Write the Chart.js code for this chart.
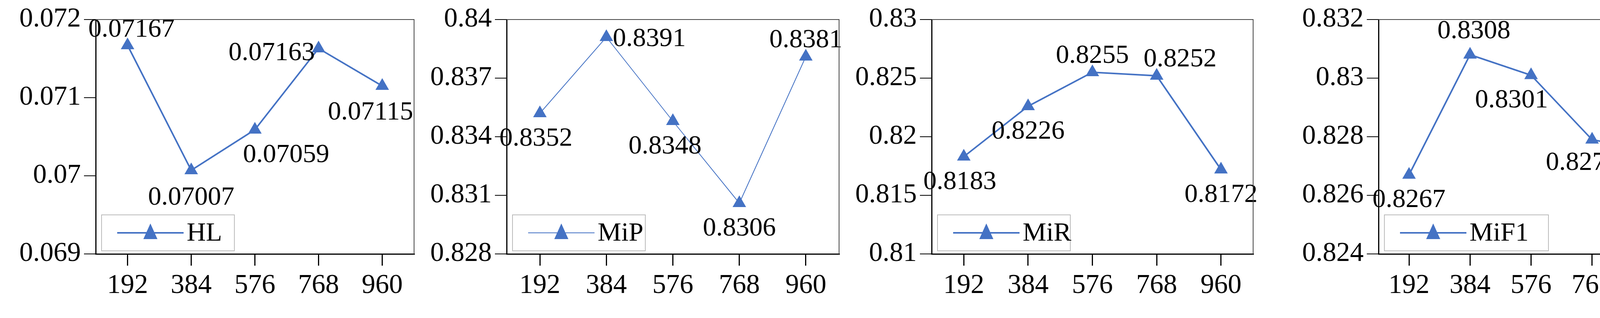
<!DOCTYPE html>
<html><head><meta charset="utf-8">
<script src="https://cdn.jsdelivr.net/npm/chart.js@4"></script>
<style>
html,body{margin:0;padding:0;background:#fff;width:4351px;height:814px;overflow:hidden}
canvas{position:absolute;top:0;display:block}
</style></head><body>
<canvas id="c0" width="1088" height="814" style="left:0;width:1088px;height:814px"></canvas>
<canvas id="c1" width="1088" height="814" style="left:1088px;width:1088px;height:814px"></canvas>
<canvas id="c2" width="1088" height="814" style="left:2176px;width:1088px;height:814px"></canvas>
<canvas id="c3" width="1087" height="814" style="left:3264px;width:1087px;height:814px"></canvas>
<script>
const categories = ['192', '384', '576', '768', '960'];
const hlValues = [0.07167, 0.07007, 0.07059, 0.07163, 0.07115];
const mipValues = [0.8352, 0.8391, 0.8348, 0.8306, 0.8381];
const mirValues = [0.8183, 0.8226, 0.8255, 0.8252, 0.8172];
const mif1Values = [0.8267, 0.8308, 0.8301, 0.8279, 0.8275];
const hlTicks = [0.069, 0.07, 0.071, 0.072];
const mipTicks = [0.828, 0.831, 0.834, 0.837, 0.84];
const mirTicks = [0.81, 0.815, 0.82, 0.825, 0.83];
const mif1Ticks = [0.824, 0.826, 0.828, 0.83, 0.832];

const FONT = '"Liberation Serif", "DejaVu Serif", serif';
const BLUE = '#4472C4';

// label placement per point: [dx, dy]
const panels = [
    { id: 'c0', name: 'HL', data: hlValues, ticks: hlTicks, yw: 245, right: 28, lw: 4,
      place: [[10, -40], [0, 70], [80, 65], [-120, 12], [-30, 68]] },
    { id: 'c1', name: 'MiP', data: mipValues, ticks: mipTicks, yw: 209, right: 28, lw: 2,
      place: [[-10, 65], [110, 5], [-20, 65], [0, 65], [0, -42]] },
    { id: 'c2', name: 'MiR', data: mirValues, ticks: mirTicks, yw: 209, right: 56, lw: 4,
      place: [[-10, 65], [0, 65], [0, -42], [60, -42], [0, 65]] },
    { id: 'c3', name: 'MiF1', data: mif1Values, ticks: mif1Ticks, yw: 265, right: 41, lw: 4,
      place: [[0, 65], [10, -60], [-50, 65], [-25, 60], [-25, -55]] }
];

const labelsPlugin = {
    id: 'pointLabels',
    afterDatasetsDraw(chart, args, opts) {
        const { ctx } = chart;
        const meta = chart.getDatasetMeta(0);
        ctx.save();
        ctx.font = '68px ' + FONT;
        ctx.fillStyle = '#000';
        ctx.textBaseline = 'middle';
        ctx.textAlign = 'center';
        meta.data.forEach((pt, i) => {
            const [dx, dy] = opts.place[i];
            ctx.fillText(String(chart.data.datasets[0].data[i]), pt.x + dx, pt.y + dy);
        });
        // legend box
        const a = chart.chartArea;
        const x = a.left + 15, y = a.bottom - 100, w = opts.name.length > 3 ? 420 : 340, h = 92;
        ctx.strokeStyle = '#bbb';
        ctx.lineWidth = 2;
        ctx.strokeRect(x, y, w, h);
        ctx.strokeStyle = BLUE;
        ctx.lineWidth = opts.lw;
        ctx.beginPath();
        ctx.moveTo(x + 40, y + 46);
        ctx.lineTo(x + 210, y + 46);
        ctx.stroke();
        ctx.fillStyle = BLUE;
        ctx.beginPath();
        ctx.moveTo(x + 125, y + 22);
        ctx.lineTo(x + 143, y + 62);
        ctx.lineTo(x + 107, y + 62);
        ctx.closePath();
        ctx.fill();
        ctx.fillStyle = '#000';
        ctx.textAlign = 'left';
        ctx.fillText(opts.name, x + 218, y + 48);
        // frame top/right
        ctx.strokeStyle = '#444';
        ctx.lineWidth = 2;
        ctx.beginPath();
        ctx.moveTo(a.left, a.top);
        ctx.lineTo(a.right, a.top);
        ctx.lineTo(a.right, a.bottom);
        ctx.stroke();
        ctx.restore();
    }
};

panels.forEach(p => {
    const lo = p.ticks[0], hi = p.ticks[p.ticks.length - 1];
    new Chart(document.getElementById(p.id), {
        type: 'line',
        data: {
            labels: categories,
            datasets: [{
                label: p.name,
                data: p.data,
                borderColor: BLUE,
                backgroundColor: BLUE,
                borderWidth: p.lw,
                pointStyle: 'triangle',
                pointRadius: 20,
                pointBorderWidth: 0,
                tension: 0
            }]
        },
        options: {
            responsive: false,
            devicePixelRatio: 1,
            animation: false,
            layout: { padding: { top: 50, right: p.right, bottom: 30, left: 0 } },
            plugins: { legend: { display: false }, tooltip: { enabled: false }, pointLabels: p },
            scales: {
                x: {
                    offset: true,
                    grid: { drawOnChartArea: false, offset: false, tickLength: 30, color: '#000', lineWidth: 3 },
                    border: { color: '#000', width: 3 },
                    ticks: { font: { family: FONT, size: 70 }, color: '#000', padding: 10 }
                },
                y: {
                    min: lo, max: hi,
                    afterBuildTicks: s => { s.ticks = p.ticks.map(v => ({ value: v })); },
                    afterFit: s => { s.width = p.yw; },
                    grid: { drawOnChartArea: false, tickLength: 30, color: '#000', lineWidth: 2 },
                    border: { color: '#000', width: 3 },
                    ticks: { font: { family: FONT, size: 70 }, color: '#000', padding: 8,
                             callback: v => String(+v.toFixed(4)) }
                }
            }
        },
        plugins: [labelsPlugin]
    });
});
</script>
</body></html>
